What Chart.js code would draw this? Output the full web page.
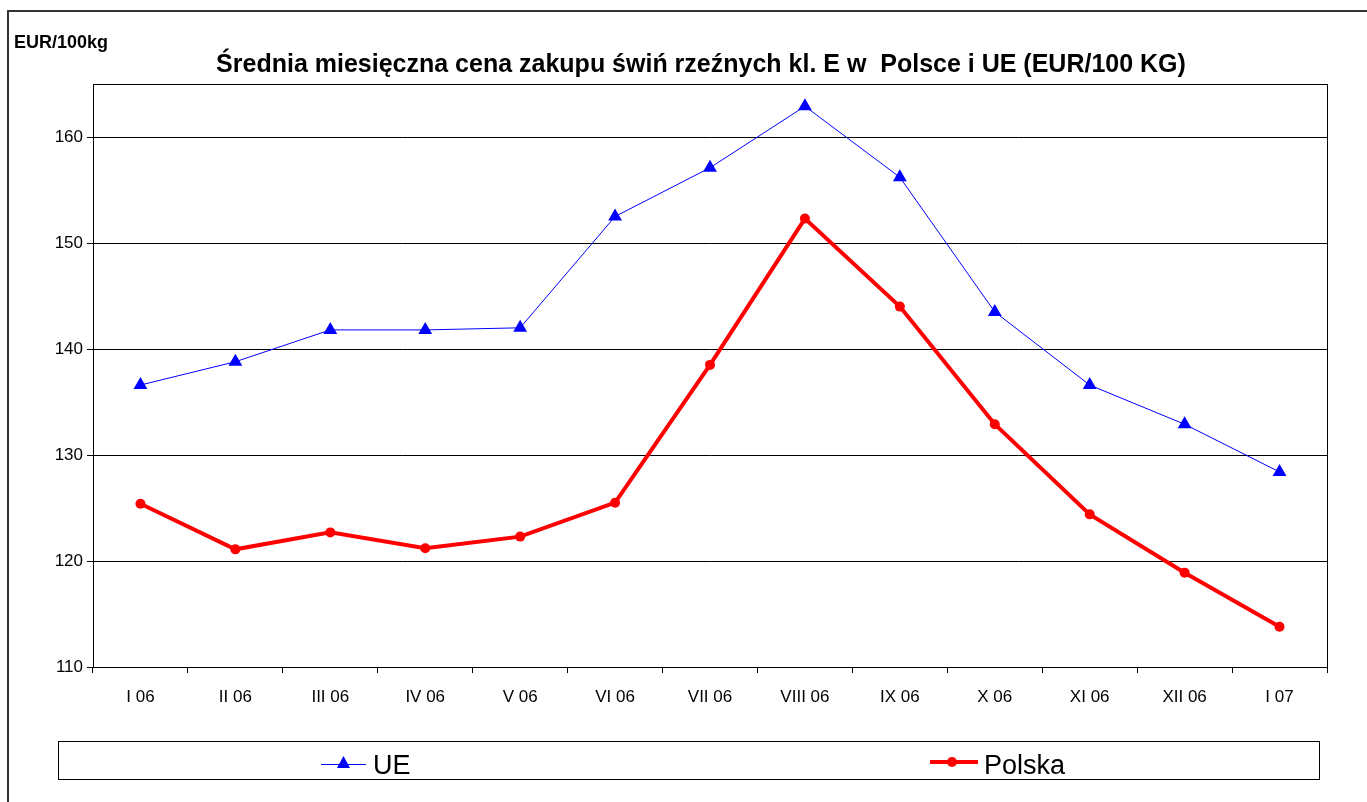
<!DOCTYPE html>
<html>
<head>
<meta charset="utf-8">
<script src="https://cdn.jsdelivr.net/npm/chart.js@4/dist/chart.umd.min.js"></script>
<style>
    html, body { margin: 0; padding: 0; background: #fff; }
    #box { position: relative; width: 1367px; height: 802px; }
</style>
</head>
<body>
<div id="box"><canvas id="chart"></canvas></div>
<script>
let miesiace = ['I 06', 'II 06', 'III 06', 'IV 06', 'V 06', 'VI 06', 'VII 06', 'VIII 06', 'IX 06', 'X 06', 'XI 06', 'XII 06', 'I 07'];
let cenyUE = [136.6, 138.8, 141.8, 141.8, 142.0, 152.5, 157.1, 162.9, 156.2, 143.5, 136.6, 132.9, 128.4];
let cenyPolska = [125.4, 121.1, 122.7, 121.2, 122.3, 125.5, 138.5, 152.3, 144.0, 132.9, 124.4, 118.9, 113.8];
let tytul = 'Średnia miesięczna cena zakupu świń rzeźnych kl. E w  Polsce i UE (EUR/100 KG)';
let jednostka = 'EUR/100kg';

let czcionka = '"Liberation Sans", Arial, sans-serif';
Chart.defaults.font.family = czcionka;
Chart.defaults.color = '#000';

// ramka, tytul i legenda rysowane recznie
let ramka = {
    id: 'ramka',
    afterDraw(chart) {
        let c = chart.ctx;
        let a = chart.chartArea;
        c.save();
        // obramowanie wykresu
        c.strokeStyle = '#000';
        c.lineWidth = 1;
        c.strokeRect(a.left + 0.5, a.top + 0.5, a.right - a.left, a.bottom - a.top);
        // zewnetrzna ramka
        c.strokeStyle = '#333';
        c.lineWidth = 2;
        c.beginPath();
        c.moveTo(8, 802);
        c.lineTo(8, 11);
        c.lineTo(1367, 11);
        c.stroke();
        // teksty
        c.fillStyle = '#000';
        c.textBaseline = 'alphabetic';
        c.font = 'bold 18px ' + czcionka;
        c.textAlign = 'left';
        c.fillText(jednostka, 14, 48);
        c.font = 'bold 25px ' + czcionka;
        c.textAlign = 'center';
        c.fillText(tytul, 701, 72);
        // legenda
        c.strokeStyle = '#000';
        c.lineWidth = 1;
        c.strokeRect(58.5, 741.5, 1261, 38);
        c.strokeStyle = '#0000ff';
        c.lineWidth = 1;
        c.beginPath();
        c.moveTo(321, 764.5);
        c.lineTo(366, 764.5);
        c.stroke();
        c.fillStyle = '#0000ff';
        c.beginPath();
        c.moveTo(343.5, 756);
        c.lineTo(350, 768);
        c.lineTo(337, 768);
        c.closePath();
        c.fill();
        c.strokeStyle = '#ff0000';
        c.lineWidth = 4;
        c.beginPath();
        c.moveTo(930, 762);
        c.lineTo(978, 762);
        c.stroke();
        c.fillStyle = '#ff0000';
        c.beginPath();
        c.arc(952, 762, 5, 0, Math.PI * 2);
        c.fill();
        c.fillStyle = '#000';
        c.font = '27px ' + czcionka;
        c.textAlign = 'left';
        c.fillText('UE', 373, 774);
        c.fillText('Polska', 984, 774);
        c.restore();
    }
};

let datos = {
    labels: miesiace,
    datasets: [
        {
            label: 'UE',
            data: cenyUE,
            borderColor: '#0000ff',
            backgroundColor: '#0000ff',
            borderWidth: 1,
            pointStyle: 'triangle',
            pointRadius: 8,
            pointBorderWidth: 0,
            tension: 0,
        },
        {
            label: 'Polska',
            data: cenyPolska,
            borderColor: '#ff0000',
            backgroundColor: '#ff0000',
            borderWidth: 4,
            pointStyle: 'circle',
            pointRadius: 5,
            pointBorderWidth: 0,
            tension: 0,
        },
    ]
};

let opciones = {
    responsive: true,
    maintainAspectRatio: false,
    animation: false,
    layout: {
        padding: { left: 30, right: 40, top: 84, bottom: 90 }
    },
    scales: {
        x: {
            offset: true,
            grid: {
                offset: true,
                drawOnChartArea: false,
                color: '#000',
                tickLength: 6,
            },
            border: { color: '#000' },
            ticks: {
                font: { size: 17 },
                maxRotation: 0,
                autoSkip: false,
                padding: 14,
            },
            afterFit(scale) { scale.height = 45; }
        },
        y: {
            min: 110,
            max: 165,
            grid: {
                color: '#000',
                tickLength: 6,
            },
            border: { color: '#000' },
            ticks: {
                stepSize: 10,
                font: { size: 17 },
                padding: 4,
            },
            afterBuildTicks(scale) {
                scale.ticks = scale.ticks.filter(t => t.value <= 160);
            },
            afterFit(scale) { scale.width = 63; }
        }
    },
    plugins: {
        legend: { display: false },
        title: { display: false },
        tooltip: { enabled: false }
    },
};

let ctx = document.getElementById('chart');

let miGrafica = new Chart(ctx, {
    type: 'line',
    data: datos,
    options: opciones,
    plugins: [ramka]
});
</script>
</body>
</html>
